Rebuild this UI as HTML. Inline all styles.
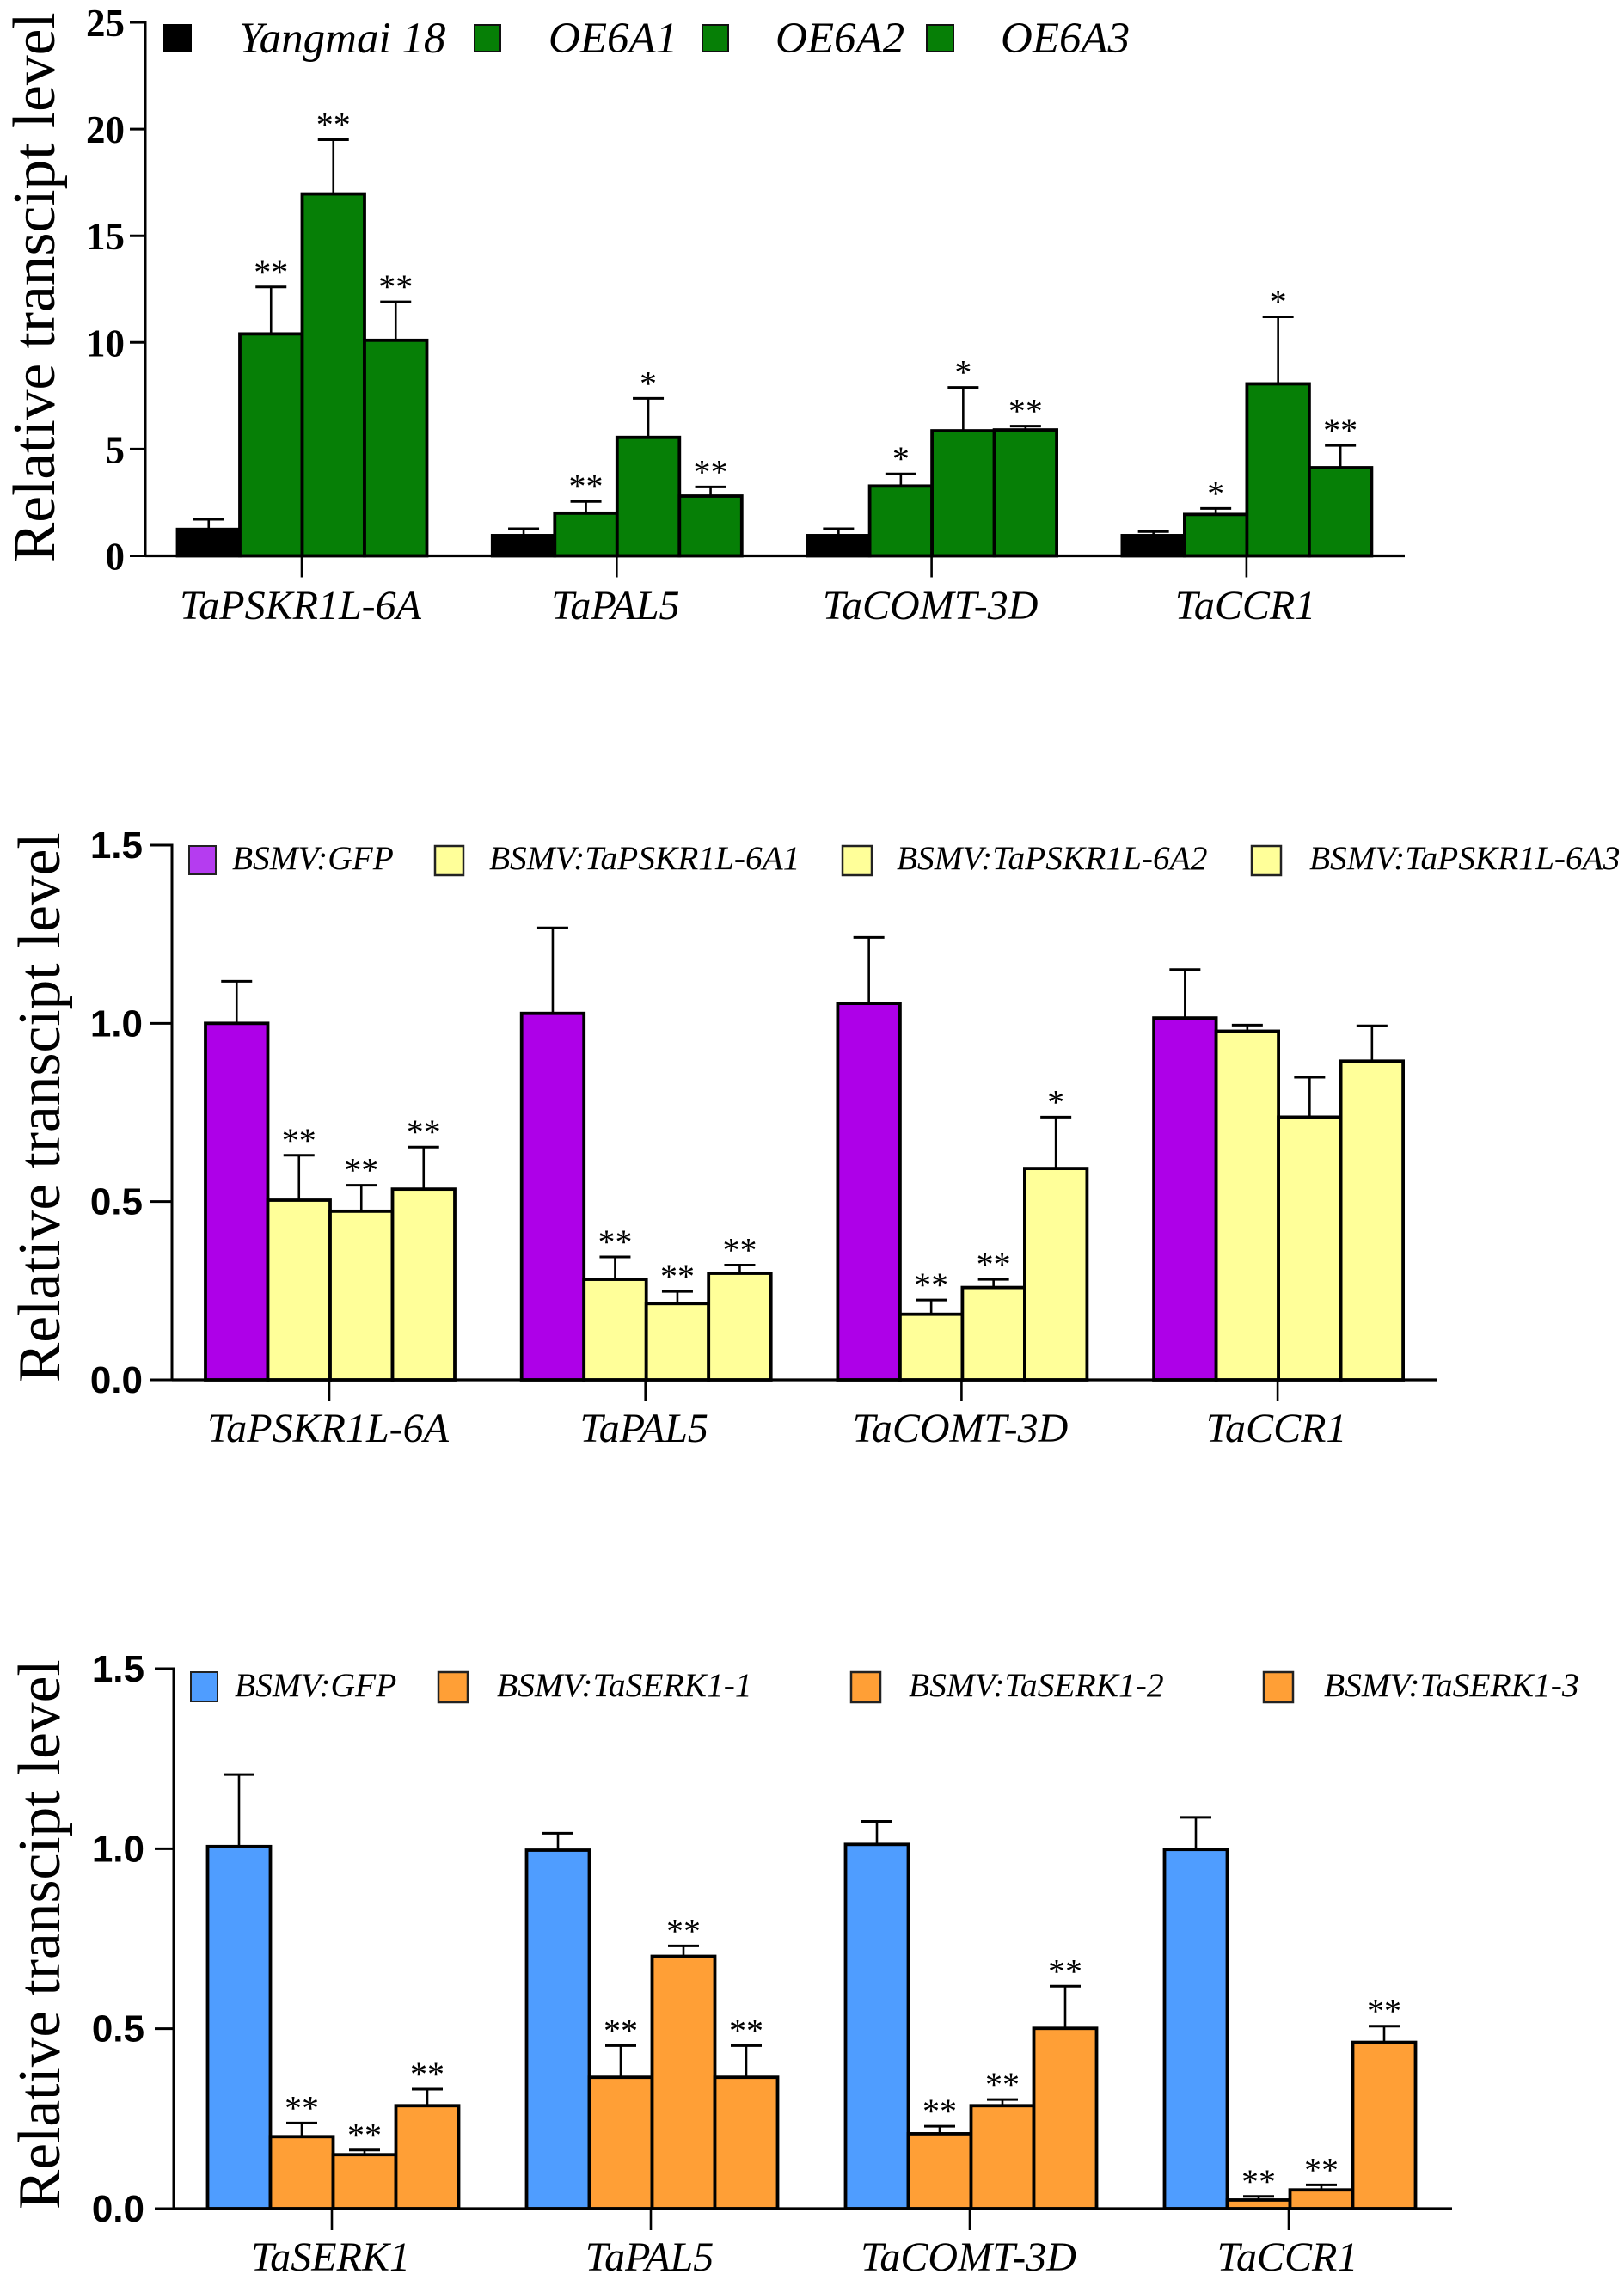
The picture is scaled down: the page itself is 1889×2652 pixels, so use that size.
<!DOCTYPE html>
<html lang="en">
<head>
<meta charset="utf-8">
<title>Relative transcript levels</title>
<style>
html,body{margin:0;padding:0;background:#fff;width:1889px;height:2652px;overflow:hidden}
svg{display:block}
.ttl{font-family:"Liberation Serif",serif;font-size:69.4px;fill:#000}
.lg{font-family:"Liberation Serif",serif;font-style:italic;fill:#000}
.cat{font-family:"Liberation Serif",serif;font-style:italic;font-size:48px;fill:#000;text-anchor:middle}
.star{font-family:"Liberation Serif",serif;font-size:40px;fill:#000;text-anchor:middle}
.t1{font-family:"Liberation Serif",serif;font-weight:bold;font-size:45px;fill:#000;text-anchor:end}
.t2{font-family:"Liberation Sans",sans-serif;font-weight:bold;font-size:44px;fill:#000;text-anchor:end}
</style>
</head>
<body>
<svg id="fig" xmlns="http://www.w3.org/2000/svg" width="1889" height="2652" viewBox="0 0 1889 2652">
  <rect x="0" y="0" width="1889" height="2652" fill="#fff"/>

  <text class="ttl" transform="translate(63,654) rotate(-90)">Relative transcipt level</text>
  <text class="ttl" transform="translate(69,1608) rotate(-90)">Relative transcipt level</text>
  <text class="ttl" transform="translate(69,2570) rotate(-90)">Relative transcipt level</text>

  <g style="font-size:51px">
    <rect x="191" y="29" width="31" height="31" fill="#000" stroke="#000" stroke-width="2"/>
    <text class="lg" x="278" y="61">Yangmai 18</text>
    <rect x="552" y="29" width="30" height="31" fill="#067f06" stroke="#111" stroke-width="2"/>
    <text class="lg" x="638" y="61">OE6A1</text>
    <rect x="817" y="29" width="30" height="31" fill="#067f06" stroke="#111" stroke-width="2"/>
    <text class="lg" x="902" y="61">OE6A2</text>
    <rect x="1078" y="29" width="31" height="31" fill="#067f06" stroke="#111" stroke-width="2"/>
    <text class="lg" x="1164" y="61">OE6A3</text>
  </g>

  <g style="font-size:39.4px">
    <rect x="220" y="984" width="31" height="33" fill="#b53cf0" stroke="#222" stroke-width="2"/>
    <text class="lg" x="270" y="1011">BSMV:GFP</text>
    <rect x="506" y="984" width="33" height="34" fill="#ffff99" stroke="#222" stroke-width="2.5"/>
    <text class="lg" x="569" y="1011">BSMV:TaPSKR1L-6A1</text>
    <rect x="980" y="984" width="34" height="34" fill="#ffff99" stroke="#222" stroke-width="2.5"/>
    <text class="lg" x="1043" y="1011">BSMV:TaPSKR1L-6A2</text>
    <rect x="1456" y="984" width="34" height="34" fill="#ffff99" stroke="#222" stroke-width="2.5"/>
    <text class="lg" x="1523" y="1011">BSMV:TaPSKR1L-6A3</text>
  </g>

  <g style="font-size:39.5px">
    <rect x="222" y="1945" width="31" height="34" fill="#4f9dff" stroke="#222" stroke-width="2"/>
    <text class="lg" x="273" y="1973">BSMV:GFP</text>
    <rect x="510" y="1945" width="34" height="35" fill="#ff9f36" stroke="#222" stroke-width="2.5"/>
    <text class="lg" x="578" y="1973">BSMV:TaSERK1-1</text>
    <rect x="990" y="1945" width="34" height="35" fill="#ff9f36" stroke="#222" stroke-width="2.5"/>
    <text class="lg" x="1057" y="1973">BSMV:TaSERK1-2</text>
    <rect x="1470" y="1945" width="34" height="35" fill="#ff9f36" stroke="#222" stroke-width="2.5"/>
    <text class="lg" x="1540" y="1973">BSMV:TaSERK1-3</text>
  </g>
</svg>

<script>
/* ---------- Panel A data ---------- */
const aCategories = ["TaPSKR1L-6A", "TaPAL5", "TaCOMT-3D", "TaCCR1"];
const aTickLabels = ["0", "5", "10", "15", "20", "25"];
const aYangmai18 = [1.24, 0.95, 0.95, 0.95];
const aYangmai18Err = [0.47, 0.32, 0.32, 0.19];
const aOE6A1 = [10.4, 2.0, 3.27, 1.94];
const aOE6A1Err = [2.2, 0.55, 0.57, 0.28];
const aOE6A2 = [16.96, 5.55, 5.86, 8.06];
const aOE6A2Err = [2.54, 1.83, 2.03, 3.14];
const aOE6A3 = [10.1, 2.8, 5.9, 4.13];
const aOE6A3Err = [1.8, 0.43, 0.18, 1.04];
const aOE6A1Sig = ["**", "**", "*", "*"];
const aOE6A2Sig = ["**", "*", "*", "*"];
const aOE6A3Sig = ["**", "**", "**", "**"];
const aNoSig = ["", "", "", ""];

/* ---------- Panel B data ---------- */
const bCategories = ["TaPSKR1L-6A", "TaPAL5", "TaCOMT-3D", "TaCCR1"];
const bTickLabels = ["0.0", "0.5", "1.0", "1.5"];
const bGFP = [1.0, 1.028, 1.056, 1.015];
const bGFPErr = [0.118, 0.24, 0.185, 0.136];
const b6A1 = [0.504, 0.282, 0.184, 0.978];
const b6A1Err = [0.126, 0.063, 0.04, 0.017];
const b6A2 = [0.473, 0.214, 0.259, 0.737];
const b6A2Err = [0.073, 0.034, 0.023, 0.112];
const b6A3 = [0.535, 0.299, 0.593, 0.894];
const b6A3Err = [0.118, 0.023, 0.144, 0.099];
const b6A1Sig = ["**", "**", "**", ""];
const b6A2Sig = ["**", "**", "**", ""];
const b6A3Sig = ["**", "**", "*", ""];
const bNoSig = ["", "", "", ""];

/* ---------- Panel C data ---------- */
const cCategories = ["TaSERK1", "TaPAL5", "TaCOMT-3D", "TaCCR1"];
const cTickLabels = ["0.0", "0.5", "1.0", "1.5"];
const cGFP = [1.006, 0.996, 1.012, 0.998];
const cGFPErr = [0.2, 0.047, 0.064, 0.089];
const cS1 = [0.2, 0.365, 0.208, 0.024];
const cS1Err = [0.038, 0.088, 0.021, 0.01];
const cS2 = [0.15, 0.701, 0.286, 0.052];
const cS2Err = [0.013, 0.029, 0.017, 0.014];
const cS3 = [0.286, 0.365, 0.501, 0.462];
const cS3Err = [0.046, 0.088, 0.117, 0.045];
const cS1Sig = ["**", "**", "**", "**"];
const cS2Sig = ["**", "**", "**", "**"];
const cS3Sig = ["**", "**", "**", "**"];
const cNoSig = ["", "", "", ""];

/* ---------- Rendering ---------- */
const svg = document.getElementById('fig');
const NS = 'http://www.w3.org/2000/svg';

function make(parent, tag, attrs, text) {
  const el = document.createElementNS(NS, tag);
  for (const k in attrs) el.setAttribute(k, attrs[k]);
  if (text !== undefined) el.textContent = text;
  parent.appendChild(el);
  return el;
}

function drawPanel(p) {
  const yScale = v => p.y0 - (v / p.yMax) * (p.y0 - p.yTop);
  const xScale = (g, s) => p.x0 + p.barShift + g * p.groupStep + (s - 2) * p.barStep;

  const group = make(svg, 'g', {});
  
  

  p.series.forEach((ser, s) => {
    ser.values.forEach((v, g) => {
      const left = xScale(g, s);
      const cx = left + p.barStep / 2;
      const top = yScale(v);
      const errTop = yScale(v + ser.errors[g]);

      const stem = make(group, 'line', {x1: cx, x2: cx, y1: top, y2: errTop, stroke: '#000', 'stroke-width': 2.6});
      
      

      const cap = make(group, 'line', {x1: cx - 18, x2: cx + 18, y1: errTop, y2: errTop, stroke: '#000', 'stroke-width': 3});
      
      

      if (ser.sig[g]) {
        const star = make(group, 'text', {class: 'star', x: cx, y: errTop - 4}, ser.sig[g]);
        
        
      }
    });
  });

  p.series.forEach((ser, s) => {
    ser.values.forEach((v, g) => {
      const top = yScale(v);
      const bar = make(group, 'rect', {
        x: xScale(g, s), y: top, width: p.barStep, height: p.y0 - top,
        fill: ser.color, stroke: '#000', 'stroke-width': 3.8
      });
      
      
    });
  });

  const yAxis = make(group, 'line', {x1: p.axisX, x2: p.axisX, y1: p.yTop - 1.5, y2: p.y0, stroke: '#000', 'stroke-width': 3});
  
  

  const xAxis = make(group, 'line', {x1: p.axisX, x2: p.xEnd, y1: p.y0, y2: p.y0, stroke: '#000', 'stroke-width': 3.2});
  
  

  p.ticks.forEach(label => {
    const y = yScale(parseFloat(label));
    const tick = make(group, 'line', {x1: p.axisX - p.tickLen, x2: p.axisX, y1: y, y2: y, stroke: '#000', 'stroke-width': 3});
    
    

    const txt = make(group, 'text', {class: p.tickClass, x: p.axisX - p.tickLen - p.tickGap, y: y + p.tickDy}, label);
    
    
  });

  p.categories.forEach((label, g) => {
    const x = p.x0 + g * p.groupStep;
    const tick = make(group, 'line', {x1: x, x2: x, y1: p.y0, y2: p.y0 + 25, stroke: '#000', 'stroke-width': 2.6});
    
    

    const txt = make(group, 'text', {class: 'cat', x: x - 1.5, y: p.catY}, label);
    
    
  });
}

drawPanel({
  name: 'panel-a', yMax: 25, y0: 646.5, yTop: 26, axisX: 169, xEnd: 1634,
  x0: 351, barShift: 0.5, groupStep: 366.3, barStep: 72.5,
  tickLen: 18, tickGap: 6, tickDy: 16, tickClass: 't1', catY: 720,
  categories: aCategories, ticks: aTickLabels,
  series: [
    {values: aYangmai18, errors: aYangmai18Err, sig: aNoSig, color: '#000000'},
    {values: aOE6A1, errors: aOE6A1Err, sig: aOE6A1Sig, color: '#067f06'},
    {values: aOE6A2, errors: aOE6A2Err, sig: aOE6A2Sig, color: '#067f06'},
    {values: aOE6A3, errors: aOE6A3Err, sig: aOE6A3Sig, color: '#067f06'}
  ]
});

drawPanel({
  name: 'panel-b', yMax: 1.5, y0: 1605, yTop: 983, axisX: 200, xEnd: 1672,
  x0: 383, barShift: 1, groupStep: 367.7, barStep: 72.5,
  tickLen: 25, tickGap: 9, tickDy: 15, tickClass: 't2', catY: 1677,
  categories: bCategories, ticks: bTickLabels,
  series: [
    {values: bGFP, errors: bGFPErr, sig: bNoSig, color: '#ae00e8'},
    {values: b6A1, errors: b6A1Err, sig: b6A1Sig, color: '#ffff99'},
    {values: b6A2, errors: b6A2Err, sig: b6A2Sig, color: '#ffff99'},
    {values: b6A3, errors: b6A3Err, sig: b6A3Sig, color: '#ffff99'}
  ]
});

drawPanel({
  name: 'panel-c', yMax: 1.5, y0: 2569, yTop: 1941, axisX: 202, xEnd: 1689,
  x0: 386, barShift: 1.5, groupStep: 371, barStep: 73,
  tickLen: 22, tickGap: 12, tickDy: 15, tickClass: 't2', catY: 2641,
  categories: cCategories, ticks: cTickLabels,
  series: [
    {values: cGFP, errors: cGFPErr, sig: cNoSig, color: '#4f9dff'},
    {values: cS1, errors: cS1Err, sig: cS1Sig, color: '#ff9f36'},
    {values: cS2, errors: cS2Err, sig: cS2Sig, color: '#ff9f36'},
    {values: cS3, errors: cS3Err, sig: cS3Sig, color: '#ff9f36'}
  ]
});
</script>
</body>
</html>
